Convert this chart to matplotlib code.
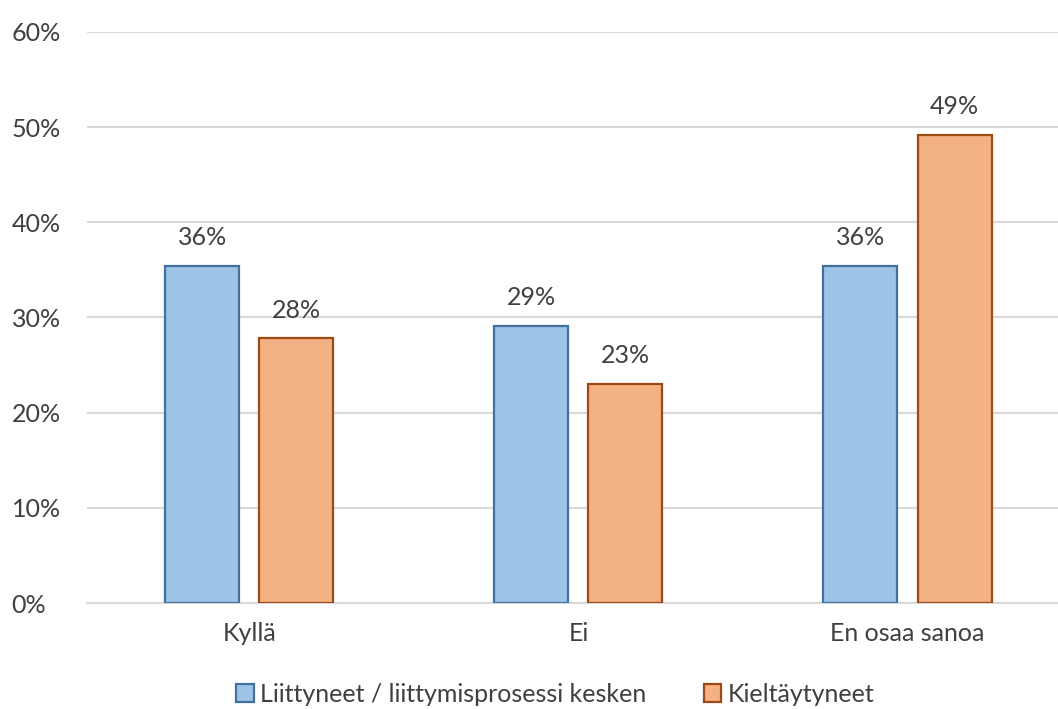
import numpy as np
import matplotlib.pyplot as plt
from matplotlib.ticker import PercentFormatter

# ── data ──────────────────────────────────────────────────────────────────────
categories = ["Kyllä", "Ei", "En osaa sanoa"]
series_names = ["Liittyneet / liittymisprosessi kesken", "Kieltäytyneet"]
joined = [35.4, 29.1, 35.4]
refused = [27.8, 23.0, 49.2]
joined_labels = ["36%", "29%", "36%"]
refused_labels = ["28%", "23%", "49%"]

plt.rcParams["font.family"] = ["Lato", "DejaVu Sans"]
TEXT = "#404040"
FS = 18

fig = plt.figure(figsize=(10.58, 7.09), dpi=100)
ax = fig.add_axes([0.082, 0.1495, 0.918, 0.8055])

x = np.arange(len(categories))
w = 0.225
off = 0.143

b1 = ax.bar(x - off, joined, w, color="#9DC3E6", edgecolor="#41719C",
            linewidth=1.6, label=series_names[0], zorder=3)
b2 = ax.bar(x + off, refused, w, color="#F4B183", edgecolor="#9E4A17",
            linewidth=1.6, label=series_names[1], zorder=3)

for bars, labels in ((b1, joined_labels), (b2, refused_labels)):
    for bar, lab in zip(bars, labels):
        ax.annotate(lab, (bar.get_x() + bar.get_width() / 2, bar.get_height()),
                    xytext=(0, 12), textcoords="offset points",
                    ha="center", va="bottom", fontsize=FS, color=TEXT)

ax.set_ylim(0, 60)
ax.set_yticks(range(0, 61, 10))
ax.yaxis.set_major_formatter(PercentFormatter(decimals=0))
ax.set_xlim(-0.494, -0.494 + 971 / 329)
ax.set_xticks(x)
ax.set_xticklabels(categories)

ax.grid(axis="y", color="#D9D9D9", linewidth=1.5, zorder=0)
for s in ("top", "right", "left"):
    ax.spines[s].set_visible(False)
ax.spines["bottom"].set_color("#D9D9D9")
ax.spines["bottom"].set_linewidth(1.5)
ax.tick_params(axis="both", length=0, labelsize=FS, colors=TEXT)
ax.tick_params(axis="x", pad=14)
for t in ax.get_yticklabels():
    t.set_horizontalalignment("left")
    t.set_x(-0.082 / 0.918 + 0.011 / 0.918)
ax.yaxis.set_tick_params(pad=0)

fig.legend(handles=[b1, b2], loc="center", bbox_to_anchor=(555 / 1058, 15 / 709),
           ncol=2, frameon=False, fontsize=FS, labelcolor=TEXT,
           handlelength=0.7, handleheight=0.7, handletextpad=0.25,
           columnspacing=2.3)

fig.savefig("out.png", dpi=100)
